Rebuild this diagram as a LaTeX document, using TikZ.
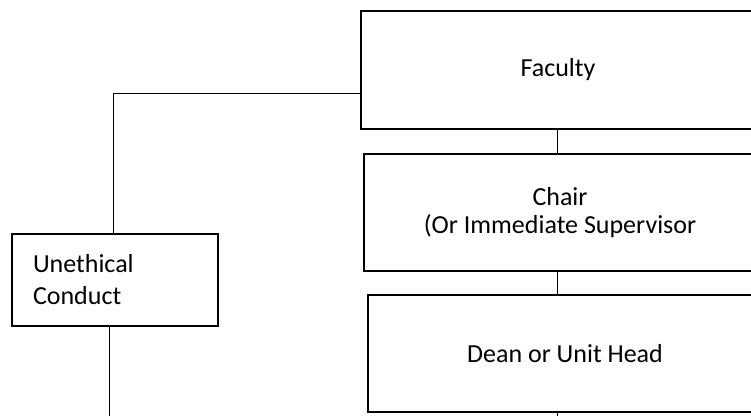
\documentclass[tikz,border=0pt]{standalone}
\usepackage{fontspec}
\setmainfont{Carlito}
\begin{document}
\begin{tikzpicture}[x=1pt,y=-1pt,
  box/.style={draw=black, line width=2pt, fill=white, inner sep=0pt, align=center,
    font=\fontsize{26}{28}\selectfont},
  conn/.style={draw=black, line width=1pt}]
\useasboundingbox (0,0) rectangle (751,415);
\fill[white] (0,0) rectangle (751,415);
% right-hand column (boxes run past the right edge of the page)
\node[box, minimum width=394pt, minimum height=118pt] (faculty) at (558,70) {Faculty};
\node[box, minimum width=392pt, minimum height=117pt] (chair) at (560,212.5) {Chair\\(Or Immediate Supervisor};
\node[box, minimum width=394pt, minimum height=117pt] (dean) at (565,353.5) {Dean or Unit Head};
% left box
\node[box, minimum width=206pt, minimum height=92pt, text width=164pt, align=left,
  inner xsep=21pt, font=\fontsize{26}{32}\selectfont] (uneth) at (115,280) {Unethical\\Conduct};
% free ends and trunk line
\coordinate (trunk) at (557,0);
\coordinate (c1) at (113,93);
\coordinate (c2) at (109,420);
\coordinate (c3) at (557,420);
% connectors
\draw[conn] (faculty.south -| trunk) -- (chair.north -| trunk);
\draw[conn] (chair.south -| trunk) -- (dean.north -| trunk);
\draw[conn] (dean.south -| trunk) -- (c3);
\draw[conn] (faculty.west |- c1) -- (c1) -- (c1 |- uneth.north);
\draw[conn] (c2 |- uneth.south) -- (c2);
\end{tikzpicture}
\end{document}
